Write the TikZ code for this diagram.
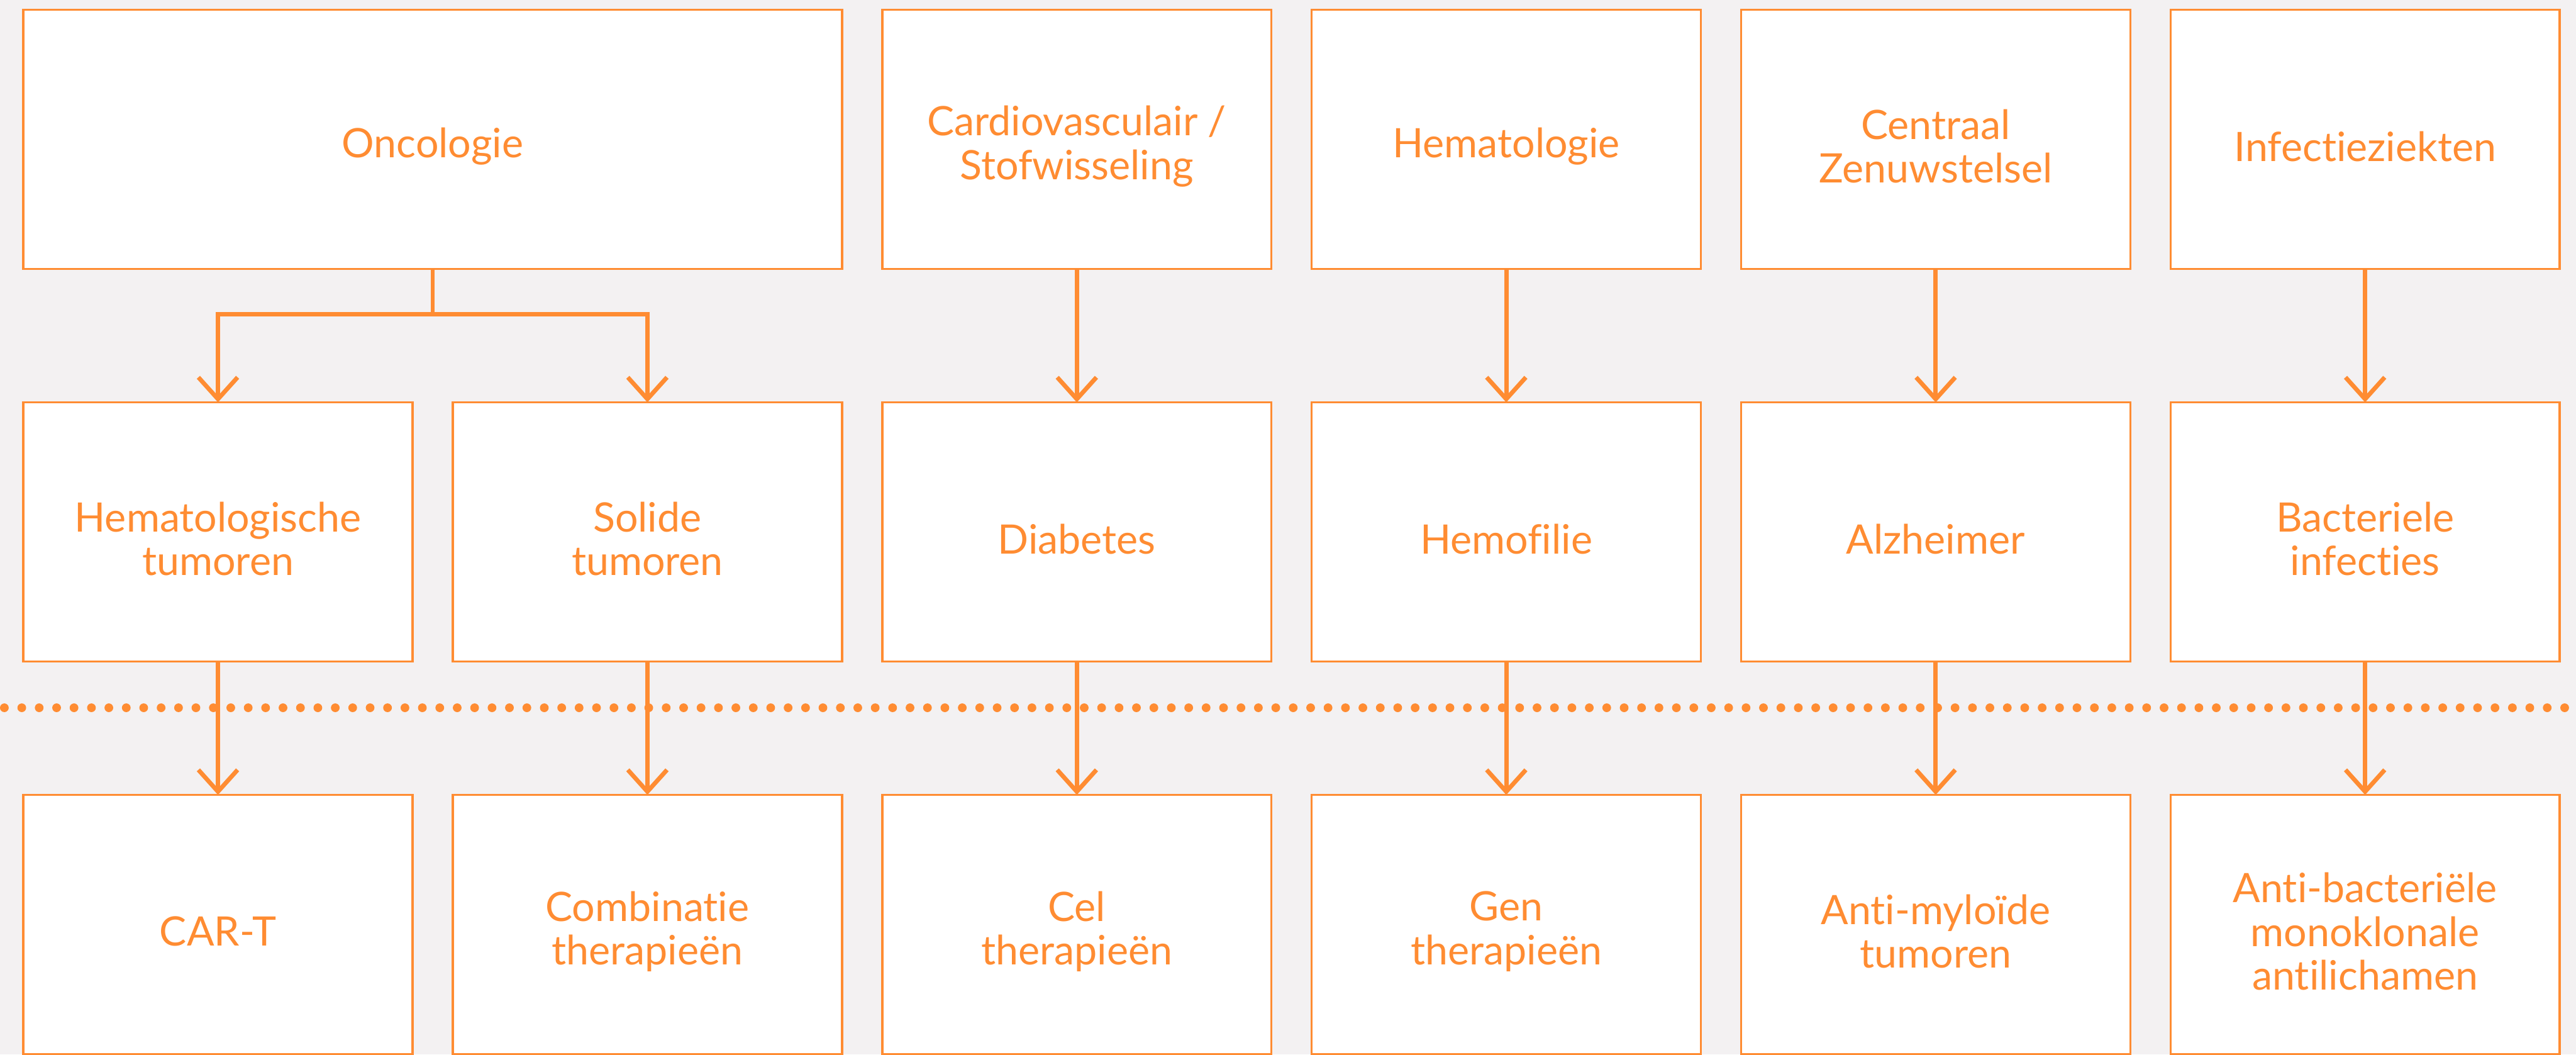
\documentclass[tikz,border=0pt]{standalone}
\usepackage{fontspec}
\setmainfont{Lato}[Ligatures={NoCommon}]
\usetikzlibrary{arrows.meta,positioning}
\definecolor{oranje}{RGB}{255,140,50}
\definecolor{achtergrond}{RGB}{243,241,242}
\tikzset{
	pijl/.style={
			draw=oranje, line width=0.08cm,
			-{Straight Barb[length=0.40cm, width=0.72cm]}
		}
}

\begin{document}
\begin{tikzpicture}[Vak/.style={draw=oranje, fill=white, line width=0.04cm, minimum width=7.15cm, minimum height=4.76cm, outer sep=0pt, align=center, text=oranje, font=\fontsize{21.2}{22.8}\selectfont, execute at begin node={\vbox\bgroup\kern0.26cm\hbox\bgroup}, execute at end node={\egroup\egroup}}, node distance=2.45cm]
		\fill[achtergrond] (0,0) rectangle (47.33,-19.37);
		\useasboundingbox (0,0) rectangle (47.33,-19.37);
		% bovenste rij: vakgebieden
		\node[Vak, minimum width=15.04cm] (onco) at (7.95,-2.56) {Oncologie};
		\node[Vak, right=0.74cm of onco] (cardio) {Cardiovasculair /\\Stofwisseling};
		\node[Vak, right=0.74cm of cardio] (hemato) {Hematologie};
		\node[Vak, right=0.74cm of hemato] (czs) {Centraal\\Zenuwstelsel};
		\node[Vak, right=0.74cm of czs] (infect) {Infectieziekten};
		% middelste rij: aandoeningen
		\node[Vak, below right=2.45cm and 0cm of onco.south west] (hemtum) {Hematologische\\tumoren};
		\node[Vak, right=0.74cm of hemtum] (soltum) {Solide\\tumoren};
		\node[Vak, below=of cardio] (diab) {Diabetes};
		\node[Vak, below=of hemato] (hemof) {Hemofilie};
		\node[Vak, below=of czs] (alz) {Alzheimer};
		\node[Vak, below=of infect] (bact) {Bacteriele\\infecties};
		% onderste rij: behandelingen
		\node[Vak, below=of hemtum] (cart) {CAR-T};
		\node[Vak, below=of soltum] (combi) {Combinatie\\therapieën};
		\node[Vak, below=of diab] (cel) {Cel\\therapieën};
		\node[Vak, below=of hemof] (gen) {Gen\\therapieën};
		\node[Vak, below=of alz] (amyl) {Anti-myloïde\\tumoren};
		\node[Vak, below=of bact] (antib) {Anti-bacteriële\\monoklonale\\antilichamen};
		% stippellijn
		\draw[oranje, line width=0.16cm, line cap=round, dash pattern=on 0pt off 0.32cm] (0.08,-13) -- (47.33,-13);
		% pijlen
		\coordinate[below=0.83cm of onco.south] (tak);
		\draw[draw=oranje, line width=0.08cm] (onco.south) -- (tak);
		\draw[pijl] (tak) -| (hemtum.north);
		\draw[pijl] (tak) -| (soltum.north);
		\draw[pijl] (cardio) -- (diab);
		\draw[pijl] (hemato) -- (hemof);
		\draw[pijl] (czs) -- (alz);
		\draw[pijl] (infect) -- (bact);
		\draw[pijl] (hemtum) -- (cart);
		\draw[pijl] (soltum) -- (combi);
		\draw[pijl] (diab) -- (cel);
		\draw[pijl] (hemof) -- (gen);
		\draw[pijl] (alz) -- (amyl);
		\draw[pijl] (bact) -- (antib);
	\end{tikzpicture}
\end{document}
